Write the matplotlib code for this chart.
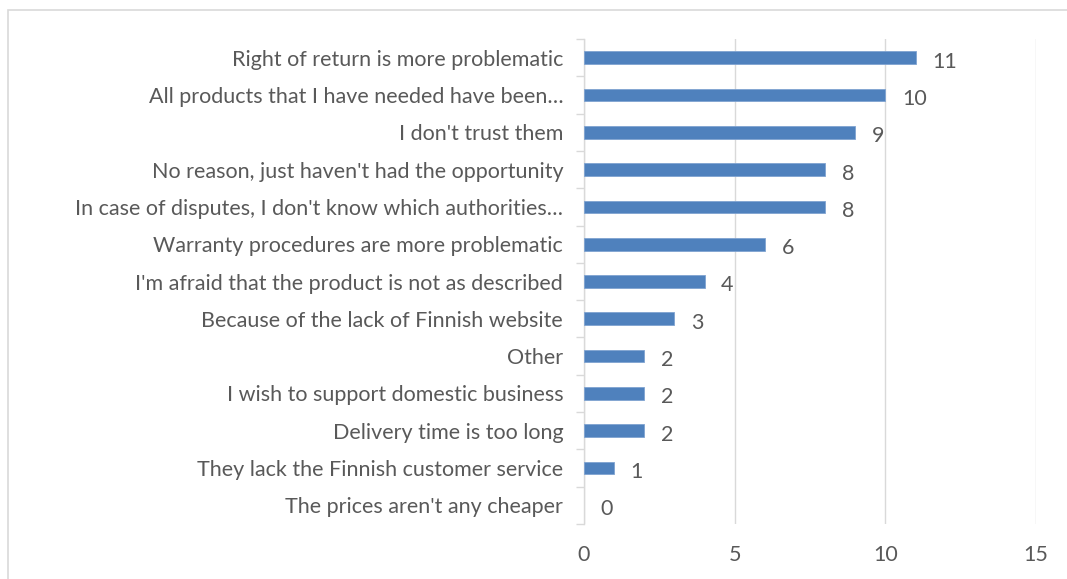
import matplotlib
matplotlib.use("Agg")
import matplotlib.pyplot as plt
from matplotlib.patches import Rectangle

categories = [
    "Right of return is more problematic",
    "All products that I have needed have been…",
    "I don't trust them",
    "No reason, just haven't had the opportunity",
    "In case of disputes, I don't know which authorities…",
    "Warranty procedures are more problematic",
    "I'm afraid that the product is not as described",
    "Because of the lack of Finnish website",
    "Other",
    "I wish to support domestic business",
    "Delivery time is too long",
    "They lack the Finnish customer service",
    "The prices aren't any cheaper",
]
values = [11, 10, 9, 8, 8, 6, 4, 3, 2, 2, 2, 1, 0]
xticks = [0, 5, 10, 15]

plt.rcParams['font.family'] = ['Lato', 'DejaVu Sans']
TXT = '#595959'
GRID = '#D9D9D9'
BAR = '#4F81BD'
FS = 15.5

fig = plt.figure(figsize=(10.67, 5.79), dpi=100)
fig.patches.append(Rectangle((0.0075, -0.1), 1.1, 1.0827, transform=fig.transFigure,
                             fill=False, edgecolor='#D9D9D9', linewidth=1.2))
ax = fig.add_axes([0.5473, 0.095, 0.4237, 0.8375])

n = len(categories)
ypos = list(range(n))
edge_w = [0.6 if v > 0 else 0 for v in values]
ax.barh(ypos, values, height=0.34, color=BAR, edgecolor='#7FA3D1', linewidth=edge_w, zorder=3)
ax.set_ylim(n - 0.5, -0.5)
ax.set_xlim(0, 15)
ax.set_xticks(xticks)
ax.set_xticklabels([str(t) for t in xticks])
ax.set_yticks(ypos)
ax.set_yticklabels(categories)
ax.set_yticks([i - 0.5 for i in range(n + 1)], minor=True)
ax.tick_params(axis='y', which='major', length=0, pad=15, labelsize=FS, labelcolor=TXT)
ax.tick_params(axis='y', which='minor', length=6, color=GRID, width=1)
ax.tick_params(axis='x', length=0, pad=15, labelsize=FS, labelcolor=TXT)
for lab in ax.get_yticklabels():
    lab.set_va('center_baseline')
ax.grid(axis='x', color=GRID, linewidth=1, zorder=0)
for s in ['top', 'right', 'bottom']:
    ax.spines[s].set_visible(False)
ax.spines['left'].set_color(GRID)
ax.spines['left'].set_linewidth(1)

for y, v in zip(ypos, values):
    ax.text(v + 0.55, y + 0.05, str(v), va='center_baseline', ha='left', fontsize=FS, color=TXT)

fig.savefig('out.png', dpi=100)
